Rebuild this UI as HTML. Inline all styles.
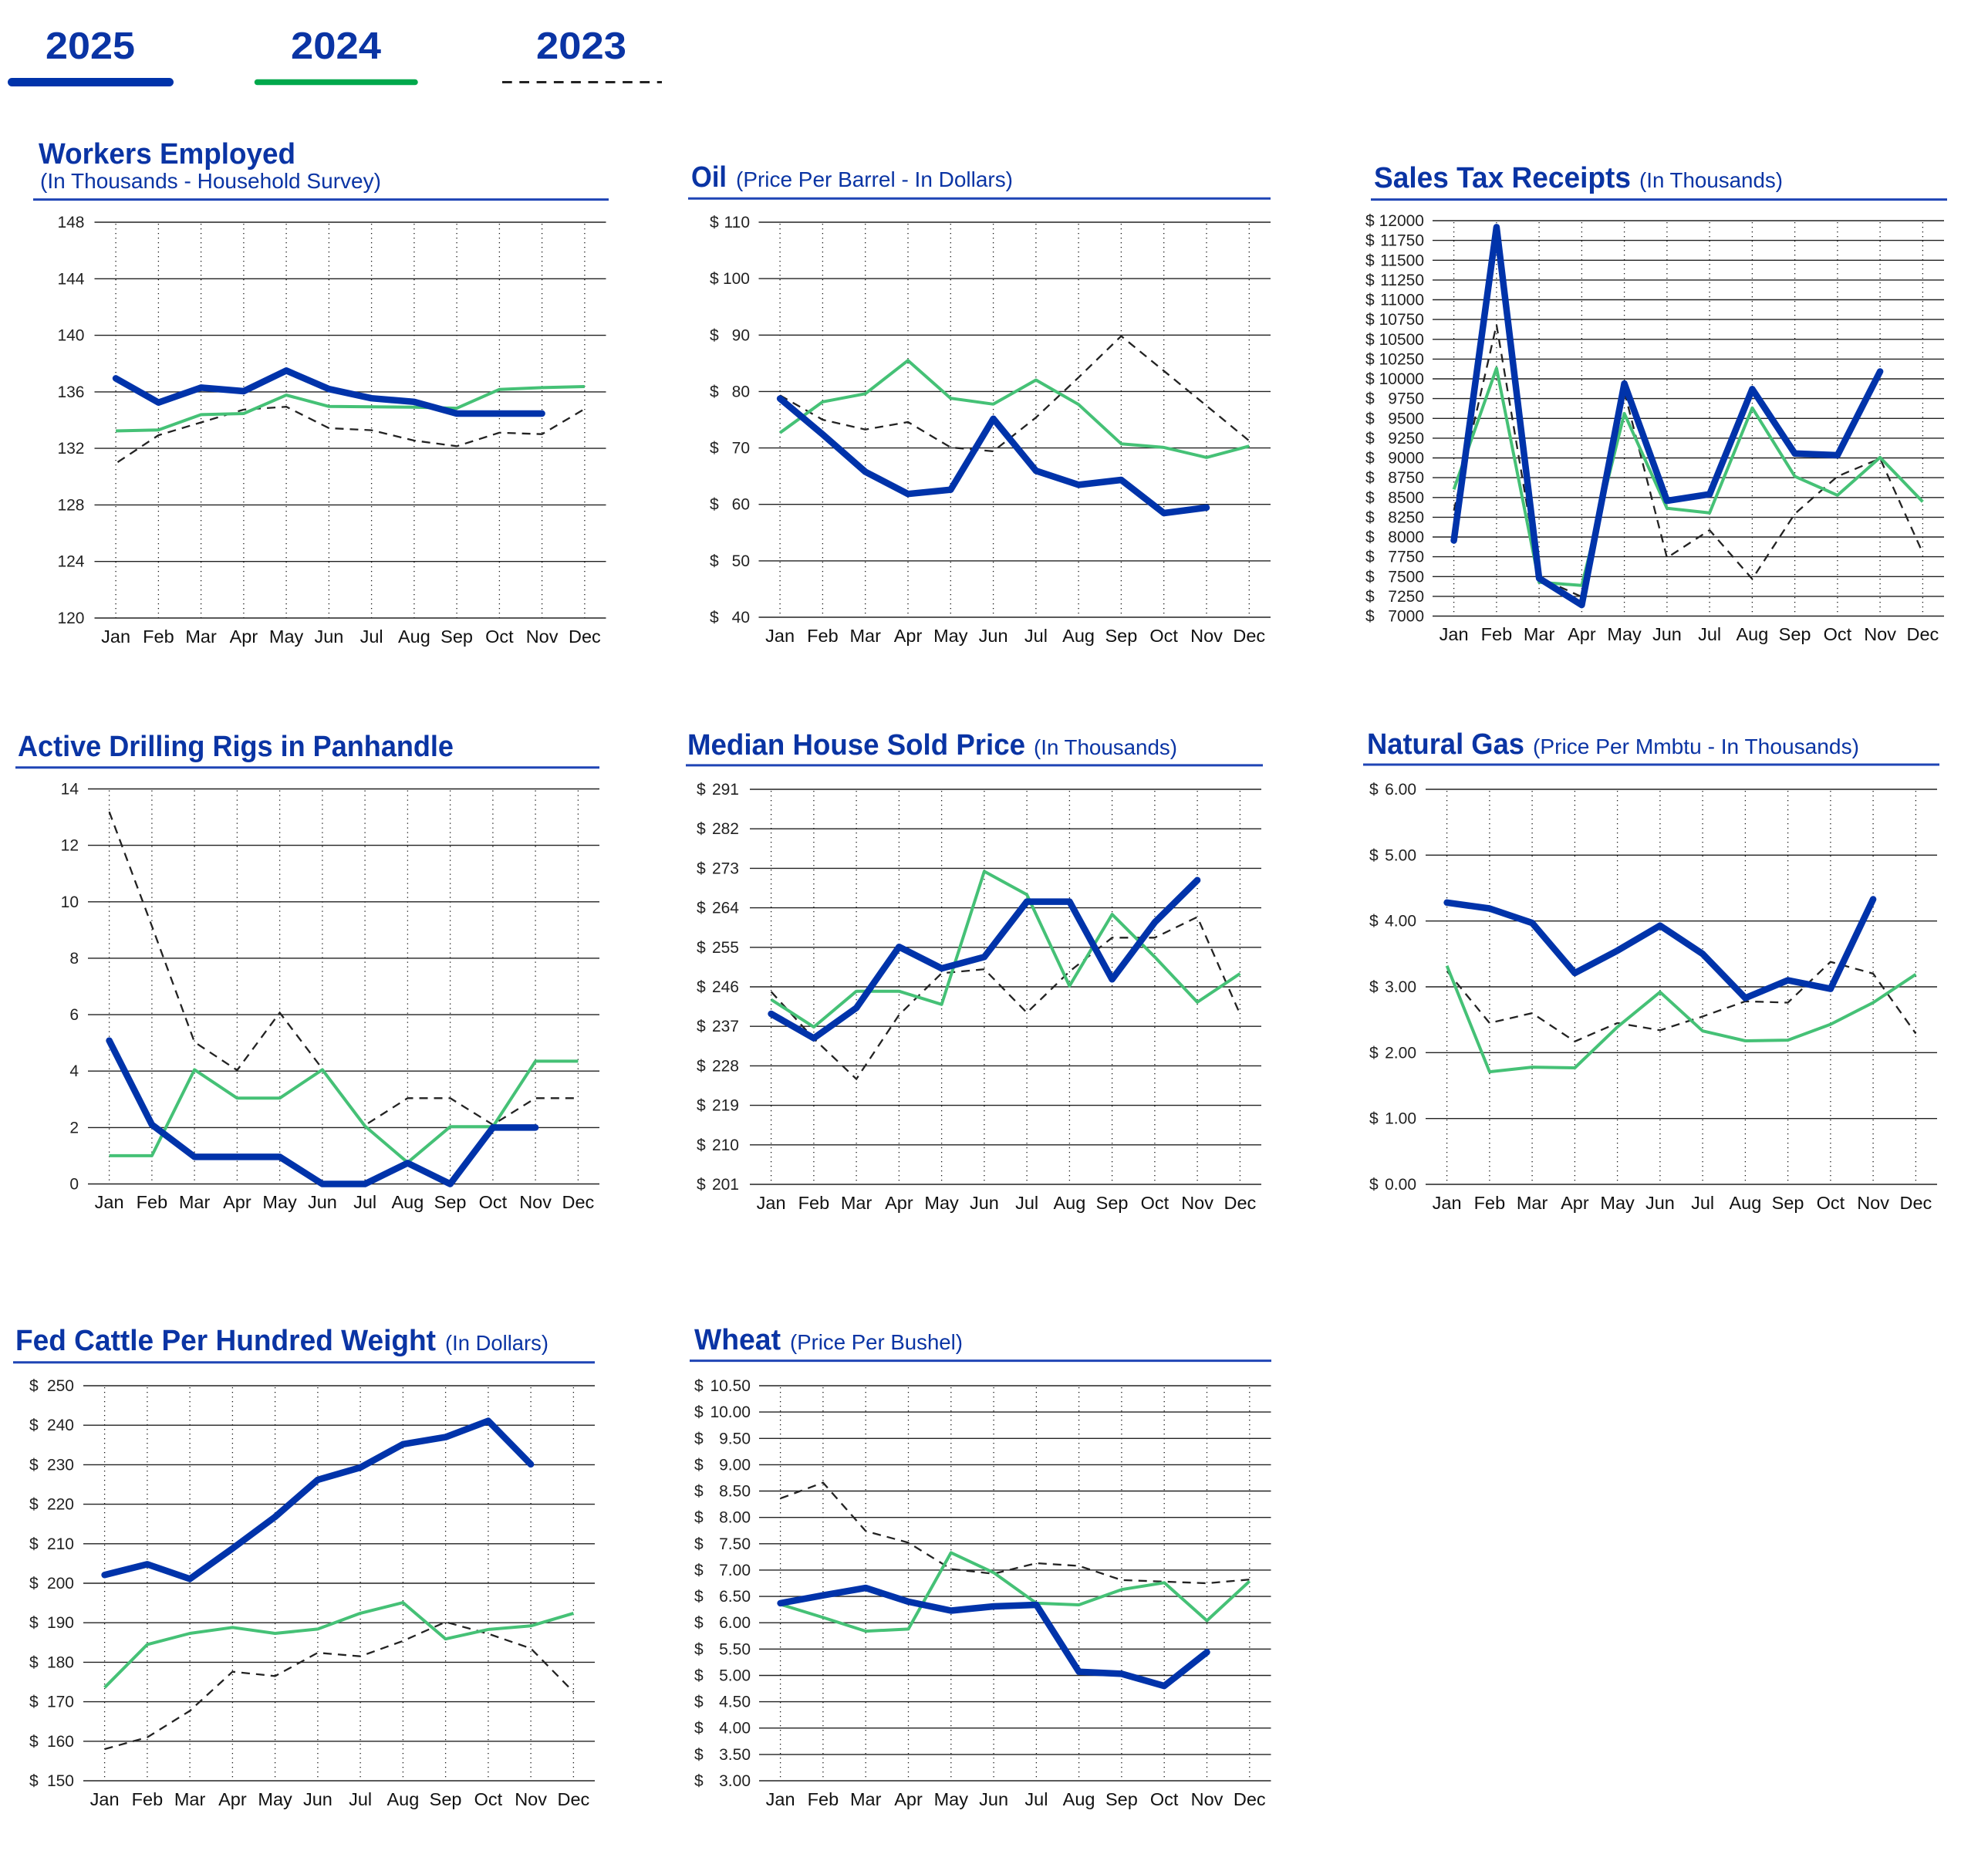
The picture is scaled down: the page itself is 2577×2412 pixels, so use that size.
<!DOCTYPE html>
<html>
<head>
<meta charset="utf-8">
<style>
html,body{margin:0;padding:0;background:#fff;}
svg{display:block;}
.t{font-family:"Liberation Sans",Arial,sans-serif;font-weight:bold;fill:#0a34a4;font-size:38px;}
.s{font-family:"Liberation Sans",Arial,sans-serif;fill:#0a34a4;font-size:27.5px;}
.lg{font-family:"Liberation Sans",Arial,sans-serif;font-weight:bold;fill:#0a34a4;font-size:49px;}
.ax{font-family:"Liberation Sans",Arial,sans-serif;fill:#222;font-size:21px;}
.mo{font-family:"Liberation Sans",Arial,sans-serif;fill:#111;font-size:23.5px;text-anchor:middle;}
.grid{stroke:#222;stroke-width:1.4;fill:none;}
.dot{stroke:#111;stroke-width:1.3;stroke-dasharray:1.3 4.7;fill:none;}
.ul{stroke:#1f45b5;stroke-width:3;fill:none;}
.b{stroke:#0033aa;stroke-width:8.5;fill:none;stroke-linejoin:round;stroke-linecap:round;}
.g{stroke:#45c176;stroke-width:4;fill:none;stroke-linejoin:round;}
.d{stroke:#222;stroke-width:2.3;fill:none;stroke-dasharray:11 8;}
</style>
</head>
<body>
<svg width="2577" height="2412" viewBox="0 0 2577 2412" xmlns="http://www.w3.org/2000/svg">
<rect width="2577" height="2412" fill="#fff"/>

<!-- Legend -->
<text class="lg" x="59" y="76" textLength="116" lengthAdjust="spacingAndGlyphs">2025</text>
<text class="lg" x="377" y="76" textLength="117" lengthAdjust="spacingAndGlyphs">2024</text>
<text class="lg" x="695" y="76" textLength="117" lengthAdjust="spacingAndGlyphs">2023</text>
<path d="M15.5 106.5H219.5" stroke="#0033aa" stroke-width="11" stroke-linecap="round"/>
<path d="M333.5 106.5H538" stroke="#00a84b" stroke-width="7.5" stroke-linecap="round"/>
<path d="M651 106.5H858" stroke="#222" stroke-width="3" stroke-dasharray="12.7 9.6"/>

<!-- ============ Chart 1: Workers Employed ============ -->
<text class="t" x="50" y="212" textLength="333" lengthAdjust="spacingAndGlyphs">Workers Employed</text>
<text class="s" x="52" y="244" textLength="442" lengthAdjust="spacingAndGlyphs">(In Thousands - Household Survey)</text>
<path class="ul" d="M43 258.6H789"/>
<g transform="translate(-1.5,-1)">
<path class="grid" d="M124 289H787M124 362.3H787M124 435.6H787M124 508.9H787M124 582.1H787M124 655.4H787M124 728.7H787M124 802H787"/>
<path class="dot" d="M151.6 291V802M206.9 291V802M262.1 291V802M317.4 291V802M372.6 291V802M427.9 291V802M483.1 291V802M538.4 291V802M593.6 291V802M648.9 291V802M704.1 291V802M759.4 291V802"/>
<g class="ax" text-anchor="end">
<text x="111" y="296">148</text><text x="111" y="369.3">144</text><text x="111" y="442.6">140</text><text x="111" y="515.9">136</text><text x="111" y="589.1">132</text><text x="111" y="662.4">128</text><text x="111" y="735.7">124</text><text x="111" y="809">120</text>
</g>
<g class="mo">
<text x="151.6" y="834">Jan</text><text x="206.9" y="834">Feb</text><text x="262.1" y="834">Mar</text><text x="317.4" y="834">Apr</text><text x="372.6" y="834">May</text><text x="427.9" y="834">Jun</text><text x="483.1" y="834">Jul</text><text x="538.4" y="834">Aug</text><text x="593.6" y="834">Sep</text><text x="648.9" y="834">Oct</text><text x="704.1" y="834">Nov</text><text x="759.4" y="834">Dec</text>
</g>
<polyline class="d" points="154,600.0 206.9,565.1 262.1,548.5 317.4,531.9 372.6,528.2 427.9,555.9 483.1,558.6 538.4,572.0 593.6,579.3 648.9,561.8 704.1,563.7 759.4,531.0"/>
<polyline class="g" points="151.6,559.5 206.9,558.2 262.1,538.4 317.4,537.0 372.6,513.1 427.9,527.8 483.1,528.2 538.4,528.7 593.6,530.1 648.9,505.7 704.1,503.4 759.4,502.0"/>
<polyline class="b" points="151.6,491.4 206.9,522.7 262.1,503.4 317.4,508.0 372.6,481.3 427.9,505.2 483.1,517.2 538.4,521.8 593.6,537.0 648.9,537.0 704.1,537.0"/>
</g>

<!-- ============ Chart 2: Oil ============ -->
<text class="t" x="896" y="242" textLength="46" lengthAdjust="spacingAndGlyphs">Oil</text>
<text class="s" x="954" y="242" textLength="359" lengthAdjust="spacingAndGlyphs">(Price Per Barrel - In Dollars)</text>
<path class="ul" d="M892 257.2H1647"/>
<path class="grid" d="M983.5 288H1647M983.5 361.1H1647M983.5 434.3H1647M983.5 507.4H1647M983.5 580.6H1647M983.5 653.7H1647M983.5 726.9H1647M983.5 800H1647"/>
<path class="dot" d="M1011.1 290V800M1066.4 290V800M1121.7 290V800M1177 290V800M1232.3 290V800M1287.6 290V800M1342.9 290V800M1398.1 290V800M1453.4 290V800M1508.7 290V800M1564 290V800M1619.3 290V800"/>
<g class="ax">
<text x="920" y="295">$</text><text x="920" y="368.1">$</text><text x="920" y="441.3">$</text><text x="920" y="514.4">$</text><text x="920" y="587.6">$</text><text x="920" y="660.7">$</text><text x="920" y="733.9">$</text><text x="920" y="807">$</text>
</g>
<g class="ax" text-anchor="end">
<text x="972" y="295">110</text><text x="972" y="368.1">100</text><text x="972" y="441.3">90</text><text x="972" y="514.4">80</text><text x="972" y="587.6">70</text><text x="972" y="660.7">60</text><text x="972" y="733.9">50</text><text x="972" y="807">40</text>
</g>
<g class="mo">
<text x="1011.1" y="832">Jan</text><text x="1066.4" y="832">Feb</text><text x="1121.7" y="832">Mar</text><text x="1177" y="832">Apr</text><text x="1232.3" y="832">May</text><text x="1287.6" y="832">Jun</text><text x="1342.9" y="832">Jul</text><text x="1398.1" y="832">Aug</text><text x="1453.4" y="832">Sep</text><text x="1508.7" y="832">Oct</text><text x="1564" y="832">Nov</text><text x="1619.3" y="832">Dec</text>
</g>
<polyline class="d" points="1011.1,512.4 1066.4,544.0 1121.7,556.7 1177.0,547.0 1232.3,579.9 1287.6,584.9 1342.9,541.1 1398.1,489.2 1453.4,435.6 1508.7,480.7 1564.0,525.9 1619.3,571.4"/>
<polyline class="g" points="1011.1,560.9 1066.4,520.8 1121.7,510.3 1177.0,467.2 1232.3,516.2 1287.6,523.8 1342.9,492.5 1398.1,524.2 1453.4,575.2 1508.7,579.9 1564.0,592.9 1619.3,578.2"/>
<polyline class="b" points="1011.1,516.6 1066.4,563.0 1121.7,611.5 1177.0,640.2 1232.3,634.7 1287.6,542.7 1342.9,610.2 1398.1,628.4 1453.4,622.0 1508.7,665.0 1564.0,657.9"/>

<!-- ============ Chart 3: Sales Tax ============ -->
<text class="t" x="1781" y="243" textLength="333" lengthAdjust="spacingAndGlyphs">Sales Tax Receipts</text>
<text class="s" x="2125" y="243" textLength="186" lengthAdjust="spacingAndGlyphs">(In Thousands)</text>
<path class="ul" d="M1777 258.6H2524"/>
<path class="grid" d="M1857 286H2520M1857 311.6H2520M1857 337.3H2520M1857 362.9H2520M1857 388.5H2520M1857 414.1H2520M1857 439.8H2520M1857 465.4H2520M1857 491H2520M1857 516.6H2520M1857 542.3H2520M1857 567.9H2520M1857 593.5H2520M1857 619.1H2520M1857 644.8H2520M1857 670.4H2520M1857 696H2520M1857 721.6H2520M1857 747.3H2520M1857 772.9H2520M1857 798.5H2520"/>
<path class="dot" d="M1884.6 288V798.5M1939.9 288V798.5M1995.1 288V798.5M2050.4 288V798.5M2105.6 288V798.5M2160.9 288V798.5M2216.1 288V798.5M2271.4 288V798.5M2326.6 288V798.5M2381.9 288V798.5M2437.1 288V798.5M2492.4 288V798.5"/>
<g class="ax">
<text x="1770" y="293">$</text><text x="1770" y="318.6">$</text><text x="1770" y="344.3">$</text><text x="1770" y="369.9">$</text><text x="1770" y="395.5">$</text><text x="1770" y="421.1">$</text><text x="1770" y="446.8">$</text><text x="1770" y="472.4">$</text><text x="1770" y="498">$</text><text x="1770" y="523.6">$</text><text x="1770" y="549.3">$</text><text x="1770" y="574.9">$</text><text x="1770" y="600.5">$</text><text x="1770" y="626.1">$</text><text x="1770" y="651.8">$</text><text x="1770" y="677.4">$</text><text x="1770" y="703">$</text><text x="1770" y="728.6">$</text><text x="1770" y="754.3">$</text><text x="1770" y="779.9">$</text><text x="1770" y="805.5">$</text>
</g>
<g class="ax" text-anchor="end">
<text x="1846" y="293">12000</text><text x="1846" y="318.6">11750</text><text x="1846" y="344.3">11500</text><text x="1846" y="369.9">11250</text><text x="1846" y="395.5">11000</text><text x="1846" y="421.1">10750</text><text x="1846" y="446.8">10500</text><text x="1846" y="472.4">10250</text><text x="1846" y="498">10000</text><text x="1846" y="523.6">9750</text><text x="1846" y="549.3">9500</text><text x="1846" y="574.9">9250</text><text x="1846" y="600.5">9000</text><text x="1846" y="626.1">8750</text><text x="1846" y="651.8">8500</text><text x="1846" y="677.4">8250</text><text x="1846" y="703">8000</text><text x="1846" y="728.6">7750</text><text x="1846" y="754.3">7500</text><text x="1846" y="779.9">7250</text><text x="1846" y="805.5">7000</text>
</g>
<g class="mo">
<text x="1884.6" y="830">Jan</text><text x="1939.9" y="830">Feb</text><text x="1995.1" y="830">Mar</text><text x="2050.4" y="830">Apr</text><text x="2105.6" y="830">May</text><text x="2160.9" y="830">Jun</text><text x="2216.1" y="830">Jul</text><text x="2271.4" y="830">Aug</text><text x="2326.6" y="830">Sep</text><text x="2381.9" y="830">Oct</text><text x="2437.1" y="830">Nov</text><text x="2492.4" y="830">Dec</text>
</g>
<polyline class="d" points="1884.6,661.7 1939.9,421.1 1995.1,748.3 2050.4,773.6 2105.6,507.6 2160.9,722.9 2216.1,687.1 2271.4,750.4 2326.6,665.9 2381.9,617.4 2437.1,594.2 2492.4,716.6"/>
<polyline class="g" points="1884.6,634.3 1939.9,477.2 1995.1,754.6 2050.4,758.8 2105.6,535.9 2160.9,658.8 2216.1,664.7 2271.4,528.7 2326.6,617.4 2381.9,641.9 2437.1,592.9 2492.4,650.3"/>
<polyline class="b" points="1884.6,700.6 1939.9,294.4 1995.1,749.5 2050.4,784.1 2105.6,497.1 2160.9,649.1 2216.1,640.6 2271.4,504.3 2326.6,587.8 2381.9,590.0 2437.1,481.5"/>

<!-- ============ Chart 4: Drilling Rigs ============ -->
<text class="t" x="23" y="980" textLength="565" lengthAdjust="spacingAndGlyphs">Active Drilling Rigs in Panhandle</text>
<path class="ul" d="M20 994.7H777"/>
<path class="grid" d="M114 1022.5H777M114 1095.6H777M114 1168.8H777M114 1241.9H777M114 1315.1H777M114 1388.2H777M114 1461.4H777M114 1534.5H777"/>
<path class="dot" d="M141.6 1024.5V1534.5M196.9 1024.5V1534.5M252.1 1024.5V1534.5M307.4 1024.5V1534.5M362.6 1024.5V1534.5M417.9 1024.5V1534.5M473.1 1024.5V1534.5M528.4 1024.5V1534.5M583.6 1024.5V1534.5M638.9 1024.5V1534.5M694.1 1024.5V1534.5M749.4 1024.5V1534.5"/>
<g class="ax" text-anchor="end">
<text x="102" y="1029.5">14</text><text x="102" y="1102.6">12</text><text x="102" y="1175.8">10</text><text x="102" y="1248.9">8</text><text x="102" y="1322.1">6</text><text x="102" y="1395.2">4</text><text x="102" y="1468.4">2</text><text x="102" y="1541.5">0</text>
</g>
<g class="mo">
<text x="141.6" y="1566">Jan</text><text x="196.9" y="1566">Feb</text><text x="252.1" y="1566">Mar</text><text x="307.4" y="1566">Apr</text><text x="362.6" y="1566">May</text><text x="417.9" y="1566">Jun</text><text x="473.1" y="1566">Jul</text><text x="528.4" y="1566">Aug</text><text x="583.6" y="1566">Sep</text><text x="638.9" y="1566">Oct</text><text x="694.1" y="1566">Nov</text><text x="749.4" y="1566">Dec</text>
</g>
<polyline class="d" points="141.6,1052.1 196.9,1200.3 252.1,1350.6 307.4,1387.1 362.6,1312.5 417.9,1385.3 473.1,1458.4 528.4,1423.3 583.6,1423.3 638.9,1457.7 694.1,1423.3 749.4,1423.3"/>
<polyline class="g" points="141.6,1497.9 196.9,1497.9 252.1,1386.4 307.4,1423.3 362.6,1423.3 417.9,1386.4 473.1,1459.5 528.4,1506.7 583.6,1460.3 638.9,1460.3 694.1,1375.4 749.4,1375.4"/>
<polyline class="b" points="141.6,1348.7 196.9,1457.7 252.1,1499.4 307.4,1499.4 362.6,1499.4 417.9,1534.5 473.1,1534.5 528.4,1507.4 583.6,1534.5 638.9,1461.4 694.1,1461.4"/>

<!-- ============ Chart 5: Median House ============ -->
<text class="t" x="891" y="978" textLength="438" lengthAdjust="spacingAndGlyphs">Median House Sold Price</text>
<text class="s" x="1340" y="978" textLength="186" lengthAdjust="spacingAndGlyphs">(In Thousands)</text>
<path class="ul" d="M889 991.9H1637"/>
<path class="grid" d="M972 1023H1635M972 1074.2H1635M972 1125.4H1635M972 1176.6H1635M972 1227.8H1635M972 1279H1635M972 1330.2H1635M972 1381.4H1635M972 1432.6H1635M972 1483.8H1635M972 1535H1635"/>
<path class="dot" d="M999.6 1025V1535M1054.9 1025V1535M1110.1 1025V1535M1165.4 1025V1535M1220.6 1025V1535M1275.9 1025V1535M1331.1 1025V1535M1386.4 1025V1535M1441.6 1025V1535M1496.9 1025V1535M1552.1 1025V1535M1607.4 1025V1535"/>
<g class="ax">
<text x="903" y="1030">$</text><text x="903" y="1081.2">$</text><text x="903" y="1132.4">$</text><text x="903" y="1183.6">$</text><text x="903" y="1234.8">$</text><text x="903" y="1286">$</text><text x="903" y="1337.2">$</text><text x="903" y="1388.4">$</text><text x="903" y="1439.6">$</text><text x="903" y="1490.8">$</text><text x="903" y="1542">$</text>
</g>
<g class="ax" text-anchor="end">
<text x="958" y="1030">291</text><text x="958" y="1081.2">282</text><text x="958" y="1132.4">273</text><text x="958" y="1183.6">264</text><text x="958" y="1234.8">255</text><text x="958" y="1286">246</text><text x="958" y="1337.2">237</text><text x="958" y="1388.4">228</text><text x="958" y="1439.6">219</text><text x="958" y="1490.8">210</text><text x="958" y="1542">201</text>
</g>
<g class="mo">
<text x="999.6" y="1567">Jan</text><text x="1054.9" y="1567">Feb</text><text x="1110.1" y="1567">Mar</text><text x="1165.4" y="1567">Apr</text><text x="1220.6" y="1567">May</text><text x="1275.9" y="1567">Jun</text><text x="1331.1" y="1567">Jul</text><text x="1386.4" y="1567">Aug</text><text x="1441.6" y="1567">Sep</text><text x="1496.9" y="1567">Oct</text><text x="1552.1" y="1567">Nov</text><text x="1607.4" y="1567">Dec</text>
</g>
<polyline class="d" points="999.6,1285.3 1054.9,1346.1 1110.1,1398.5 1165.4,1315.4 1220.6,1261.4 1275.9,1256.2 1331.1,1312.6 1386.4,1259.1 1441.6,1215.3 1496.9,1215.3 1552.1,1188.5 1607.4,1314.3"/>
<polyline class="g" points="999.6,1295.5 1054.9,1331.1 1110.1,1284.7 1165.4,1284.7 1220.6,1301.8 1275.9,1129.4 1331.1,1159.5 1386.4,1277.9 1441.6,1185.1 1496.9,1240.3 1552.1,1298.9 1607.4,1261.9"/>
<polyline class="b" points="999.6,1314.0 1054.9,1345.6 1110.1,1306.3 1165.4,1227.2 1220.6,1255.1 1275.9,1240.3 1331.1,1168.6 1386.4,1168.6 1441.6,1269.3 1496.9,1195.4 1552.1,1140.8"/>

<!-- ============ Chart 6: Natural Gas ============ -->
<text class="t" x="1772" y="977" textLength="204" lengthAdjust="spacingAndGlyphs">Natural Gas</text>
<text class="s" x="1987" y="977" textLength="423" lengthAdjust="spacingAndGlyphs">(Price Per Mmbtu - In Thousands)</text>
<path class="ul" d="M1767 991H2514"/>
<path class="grid" d="M1848 1023H2511M1848 1108.3H2511M1848 1193.7H2511M1848 1279H2511M1848 1364.3H2511M1848 1449.7H2511M1848 1535H2511"/>
<path class="dot" d="M1875.6 1025V1535M1930.9 1025V1535M1986.1 1025V1535M2041.4 1025V1535M2096.6 1025V1535M2151.9 1025V1535M2207.1 1025V1535M2262.4 1025V1535M2317.6 1025V1535M2372.9 1025V1535M2428.1 1025V1535M2483.4 1025V1535"/>
<g class="ax">
<text x="1775" y="1030">$</text><text x="1775" y="1115.3">$</text><text x="1775" y="1200.7">$</text><text x="1775" y="1286">$</text><text x="1775" y="1371.3">$</text><text x="1775" y="1456.7">$</text><text x="1775" y="1542">$</text>
</g>
<g class="ax" text-anchor="end">
<text x="1836" y="1030">6.00</text><text x="1836" y="1115.3">5.00</text><text x="1836" y="1200.7">4.00</text><text x="1836" y="1286">3.00</text><text x="1836" y="1371.3">2.00</text><text x="1836" y="1456.7">1.00</text><text x="1836" y="1542">0.00</text>
</g>
<g class="mo">
<text x="1875.6" y="1567">Jan</text><text x="1930.9" y="1567">Feb</text><text x="1986.1" y="1567">Mar</text><text x="2041.4" y="1567">Apr</text><text x="2096.6" y="1567">May</text><text x="2151.9" y="1567">Jun</text><text x="2207.1" y="1567">Jul</text><text x="2262.4" y="1567">Aug</text><text x="2317.6" y="1567">Sep</text><text x="2372.9" y="1567">Oct</text><text x="2428.1" y="1567">Nov</text><text x="2483.4" y="1567">Dec</text>
</g>
<polyline class="d" points="1875.6,1258.5 1930.9,1325.9 1986.1,1313.1 2041.4,1349.8 2096.6,1325.9 2151.9,1335.3 2207.1,1317.4 2262.4,1297.8 2317.6,1299.5 2372.9,1246.6 2428.1,1261.9 2483.4,1339.6"/>
<polyline class="g" points="1875.6,1251.7 1930.9,1389.1 1986.1,1383.1 2041.4,1384.0 2096.6,1331.1 2151.9,1285.8 2207.1,1336.2 2262.4,1349.0 2317.6,1348.1 2372.9,1327.6 2428.1,1299.5 2483.4,1262.8"/>
<polyline class="b" points="1875.6,1169.8 1930.9,1177.5 1986.1,1196.2 2041.4,1261.1 2096.6,1232.1 2151.9,1199.7 2207.1,1236.3 2262.4,1293.5 2317.6,1270.5 2372.9,1281.6 2428.1,1165.5"/>

<!-- ============ Chart 7: Fed Cattle ============ -->
<text class="t" x="20" y="1750" textLength="545" lengthAdjust="spacingAndGlyphs">Fed Cattle Per Hundred Weight</text>
<text class="s" x="577" y="1750" textLength="134" lengthAdjust="spacingAndGlyphs">(In Dollars)</text>
<path class="ul" d="M17 1765.7H771"/>
<path class="grid" d="M108 1796H771M108 1847.2H771M108 1898.4H771M108 1949.6H771M108 2000.8H771M108 2052H771M108 2103.2H771M108 2154.4H771M108 2205.6H771M108 2256.8H771M108 2308H771"/>
<path class="dot" d="M135.6 1798V2308M190.9 1798V2308M246.1 1798V2308M301.4 1798V2308M356.6 1798V2308M411.9 1798V2308M467.1 1798V2308M522.4 1798V2308M577.6 1798V2308M632.9 1798V2308M688.1 1798V2308M743.4 1798V2308"/>
<g class="ax">
<text x="38" y="1803">$</text><text x="38" y="1854.2">$</text><text x="38" y="1905.4">$</text><text x="38" y="1956.6">$</text><text x="38" y="2007.8">$</text><text x="38" y="2059">$</text><text x="38" y="2110.2">$</text><text x="38" y="2161.4">$</text><text x="38" y="2212.6">$</text><text x="38" y="2263.8">$</text><text x="38" y="2315">$</text>
</g>
<g class="ax" text-anchor="end">
<text x="96" y="1803">250</text><text x="96" y="1854.2">240</text><text x="96" y="1905.4">230</text><text x="96" y="1956.6">220</text><text x="96" y="2007.8">210</text><text x="96" y="2059">200</text><text x="96" y="2110.2">190</text><text x="96" y="2161.4">180</text><text x="96" y="2212.6">170</text><text x="96" y="2263.8">160</text><text x="96" y="2315">150</text>
</g>
<g class="mo">
<text x="135.6" y="2340">Jan</text><text x="190.9" y="2340">Feb</text><text x="246.1" y="2340">Mar</text><text x="301.4" y="2340">Apr</text><text x="356.6" y="2340">May</text><text x="411.9" y="2340">Jun</text><text x="467.1" y="2340">Jul</text><text x="522.4" y="2340">Aug</text><text x="577.6" y="2340">Sep</text><text x="632.9" y="2340">Oct</text><text x="688.1" y="2340">Nov</text><text x="743.4" y="2340">Dec</text>
</g>
<polyline class="d" points="135.6,2267.0 190.9,2251.7 246.1,2217.4 301.4,2166.7 356.6,2172.3 411.9,2142.1 467.1,2146.7 522.4,2126.8 577.6,2102.2 632.9,2117.5 688.1,2136.5 743.4,2192.8"/>
<polyline class="g" points="135.6,2187.2 190.9,2131.4 246.1,2117.0 301.4,2109.3 356.6,2117.0 411.9,2111.4 467.1,2090.9 522.4,2077.1 577.6,2124.2 632.9,2111.9 688.1,2107.3 743.4,2090.9"/>
<polyline class="b" points="135.6,2041.2 190.9,2027.4 246.1,2046.4 301.4,2006.9 356.6,1966.0 411.9,1917.9 467.1,1902.0 522.4,1871.8 577.6,1862.6 632.9,1841.6 688.1,1897.9"/>

<!-- ============ Chart 8: Wheat ============ -->
<text class="t" x="900" y="1749" textLength="112" lengthAdjust="spacingAndGlyphs">Wheat</text>
<text class="s" x="1024" y="1749" textLength="224" lengthAdjust="spacingAndGlyphs">(Price Per Bushel)</text>
<path class="ul" d="M894 1763.6H1648"/>
<path class="grid" d="M984 1796H1647.5M984 1830.1H1647.5M984 1864.3H1647.5M984 1898.4H1647.5M984 1932.5H1647.5M984 1966.7H1647.5M984 2000.8H1647.5M984 2034.9H1647.5M984 2069.1H1647.5M984 2103.2H1647.5M984 2137.3H1647.5M984 2171.5H1647.5M984 2205.6H1647.5M984 2239.7H1647.5M984 2273.9H1647.5M984 2308H1647.5"/>
<path class="dot" d="M1011.6 1798V2308M1066.9 1798V2308M1122.2 1798V2308M1177.5 1798V2308M1232.8 1798V2308M1288.1 1798V2308M1343.4 1798V2308M1398.6 1798V2308M1453.9 1798V2308M1509.2 1798V2308M1564.5 1798V2308M1619.8 1798V2308"/>
<g class="ax">
<text x="900" y="1803">$</text><text x="900" y="1837.1">$</text><text x="900" y="1871.3">$</text><text x="900" y="1905.4">$</text><text x="900" y="1939.5">$</text><text x="900" y="1973.7">$</text><text x="900" y="2007.8">$</text><text x="900" y="2041.9">$</text><text x="900" y="2076.1">$</text><text x="900" y="2110.2">$</text><text x="900" y="2144.3">$</text><text x="900" y="2178.5">$</text><text x="900" y="2212.6">$</text><text x="900" y="2246.7">$</text><text x="900" y="2280.9">$</text><text x="900" y="2315">$</text>
</g>
<g class="ax" text-anchor="end">
<text x="973" y="1803">10.50</text><text x="973" y="1837.1">10.00</text><text x="973" y="1871.3">9.50</text><text x="973" y="1905.4">9.00</text><text x="973" y="1939.5">8.50</text><text x="973" y="1973.7">8.00</text><text x="973" y="2007.8">7.50</text><text x="973" y="2041.9">7.00</text><text x="973" y="2076.1">6.50</text><text x="973" y="2110.2">6.00</text><text x="973" y="2144.3">5.50</text><text x="973" y="2178.5">5.00</text><text x="973" y="2212.6">4.50</text><text x="973" y="2246.7">4.00</text><text x="973" y="2280.9">3.50</text><text x="973" y="2315">3.00</text>
</g>
<g class="mo">
<text x="1011.6" y="2340">Jan</text><text x="1066.9" y="2340">Feb</text><text x="1122.2" y="2340">Mar</text><text x="1177.5" y="2340">Apr</text><text x="1232.8" y="2340">May</text><text x="1288.1" y="2340">Jun</text><text x="1343.4" y="2340">Jul</text><text x="1398.6" y="2340">Aug</text><text x="1453.9" y="2340">Sep</text><text x="1509.2" y="2340">Oct</text><text x="1564.5" y="2340">Nov</text><text x="1619.8" y="2340">Dec</text>
</g>
<polyline class="d" points="1011.6,1942.1 1066.9,1921.6 1122.2,1984.4 1177.5,1999.4 1232.8,2033.6 1288.1,2039.7 1343.4,2026.0 1398.6,2029.5 1453.9,2047.9 1509.2,2049.9 1564.5,2052.0 1619.8,2047.2"/>
<polyline class="g" points="1011.6,2079.3 1066.9,2096.4 1122.2,2114.1 1177.5,2111.4 1232.8,2012.4 1288.1,2038.3 1343.4,2077.9 1398.6,2080.0 1453.9,2060.2 1509.2,2051.3 1564.5,2100.5 1619.8,2049.3"/>
<polyline class="b" points="1011.6,2077.9 1066.9,2067.7 1122.2,2058.1 1177.5,2075.9 1232.8,2087.5 1288.1,2082.0 1343.4,2080.0 1398.6,2166.7 1453.9,2169.4 1509.2,2185.1 1564.5,2141.4"/>

</svg>
</body>
</html>
